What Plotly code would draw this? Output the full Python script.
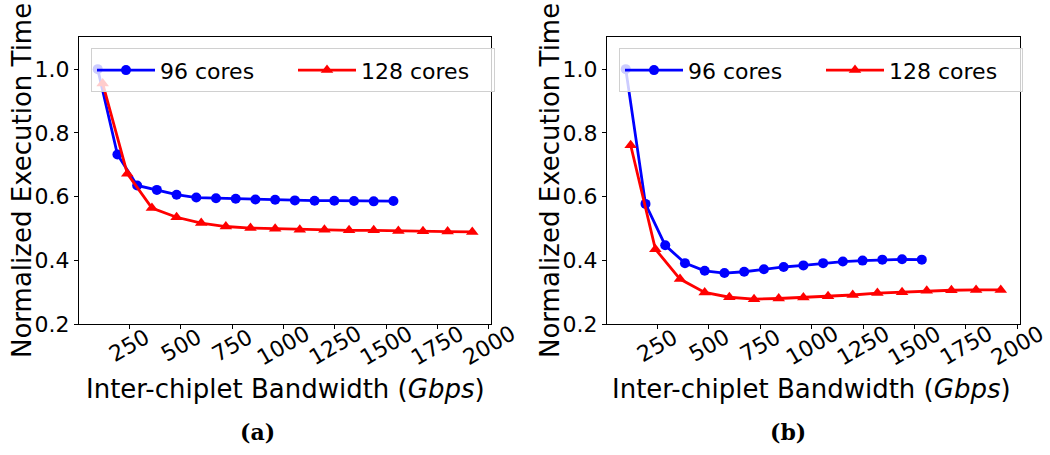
import plotly.graph_objects as go

# ---- data ----
bw_96 = [96 * k for k in range(1, 17)]
bw_128 = [120 * k for k in range(1, 17)]

a_96 = [1.0, 0.732, 0.635, 0.621, 0.606, 0.597, 0.595, 0.593, 0.591, 0.590,
        0.588, 0.587, 0.587, 0.586, 0.585, 0.586]
a_128 = [0.955, 0.672, 0.564, 0.535, 0.517, 0.506, 0.501, 0.499, 0.496, 0.496,
         0.494, 0.494, 0.492, 0.491, 0.490, 0.489]

b_96 = [1.0, 0.577, 0.447, 0.391, 0.367, 0.360, 0.364, 0.372, 0.379, 0.384,
        0.391, 0.396, 0.399, 0.402, 0.403, 0.402]
b_128 = [0.761, 0.435, 0.341, 0.299, 0.284, 0.278, 0.280, 0.283, 0.287, 0.291,
         0.297, 0.300, 0.304, 0.306, 0.307, 0.307]

x_ticks = [250, 500, 750, 1000, 1250, 1500, 1750, 2000]
y_ticks = [0.2, 0.4, 0.6, 0.8, 1.0]
panels = ["(a)", "(b)"]
series_names = ["96 cores", "128 cores"]

W, H = 1050, 455
FONT = "DejaVu Sans"
BLUE = "#0000ff"
RED = "#ff0000"

fig = go.Figure()

data = [(a_96, a_128), (b_96, b_128)]
for i, (v96, v128) in enumerate(data):
    xa = "x" if i == 0 else "x2"
    ya = "y" if i == 0 else "y2"
    leg = "legend" if i == 0 else "legend2"
    fig.add_trace(go.Scatter(x=bw_96, y=v96, name=series_names[0], mode="lines+markers",
                             line=dict(color=BLUE, width=2.8),
                             marker=dict(symbol="circle", size=10, color=BLUE),
                             xaxis=xa, yaxis=ya, legend=leg))
    fig.add_trace(go.Scatter(x=bw_128, y=v128, name=series_names[1], mode="lines+markers",
                             line=dict(color=RED, width=2.8),
                             marker=dict(symbol="triangle-up", size=11, color=RED),
                             xaxis=xa, yaxis=ya, legend=leg))

px_x = lambda p: p / W
px_y = lambda p: 1 - p / H

dom_y = [px_y(324), px_y(37.3)]
dom_x = [[px_x(79), px_x(491)], [px_x(607), px_x(1019.5)]]

axis_common = dict(showline=True, linecolor="black", linewidth=1, mirror=True,
                   ticks="outside", ticklen=4, tickwidth=1, tickcolor="black",
                   showgrid=False, zeroline=False, automargin=False)

xr = [4.8, 2011.2]
yr = [0.2, 1.1]

layout = dict(
    width=W, height=H,
    margin=dict(l=0, r=0, t=0, b=0),
    plot_bgcolor="white", paper_bgcolor="white",
    font=dict(family=FONT, size=22, color="black"),
    showlegend=True,
    hovermode=False,
)
for i in range(2):
    sx = "" if i == 0 else "2"
    layout["xaxis" + sx] = dict(axis_common, domain=dom_x[i], range=xr,
                                tickvals=x_ticks, showticklabels=False,
                                anchor="y" + sx)
    layout["yaxis" + sx] = dict(axis_common, domain=dom_y, range=yr,
                                tickvals=y_ticks, tickformat=".1f",
                                tickfont=dict(size=22), anchor="x" + sx)
    legname = "legend" if i == 0 else "legend2"
    layout[legname] = dict(orientation="h", x=px_x([91, 619][i]), y=px_y(48.3),
                           xanchor="left", yanchor="top",
                           bgcolor="rgba(255,255,255,0.8)", bordercolor="#d0d0d0",
                           borderwidth=1, font=dict(size=22, family=FONT),
                           entrywidth=128, itemwidth=58)
fig.update_layout(**layout)

annotations = []
title_cx = [285, 811.5]
ytitle_cx = [22.5, 550.5]
cap_cx = [257, 788]
for i in range(2):
    xref = "x" if i == 0 else "x2"
    for t in x_ticks:
        annotations.append(dict(x=t, y=px_y(345), xref=xref, yref="paper",
                                text=str(t), showarrow=False, textangle=-30,
                                xanchor="center", yanchor="middle",
                                font=dict(size=22, family=FONT)))
    annotations.append(dict(x=px_x(title_cx[i]), y=px_y(389), xref="paper", yref="paper",
                            text="Inter-chiplet Bandwidth (<i>Gbps</i>)", showarrow=False,
                            xanchor="center", yanchor="middle",
                            font=dict(size=26, family=FONT)))
    annotations.append(dict(x=px_x(ytitle_cx[i]), y=px_y(180.5), xref="paper", yref="paper",
                            text="Normalized Execution Time", showarrow=False, textangle=-90,
                            xanchor="center", yanchor="middle",
                            font=dict(size=26, family=FONT)))
    annotations.append(dict(x=px_x(cap_cx[i]), y=px_y(432), xref="paper", yref="paper",
                            text="<b>" + panels[i] + "</b>", showarrow=False,
                            xanchor="center", yanchor="middle",
                            font=dict(size=22, family="DejaVu Serif")))
fig.update_layout(annotations=annotations)

fig.write_html("out.html", config={"displayModeBar": False},
               post_script="document.body.style.margin='0';document.body.style.overflow='hidden';")
